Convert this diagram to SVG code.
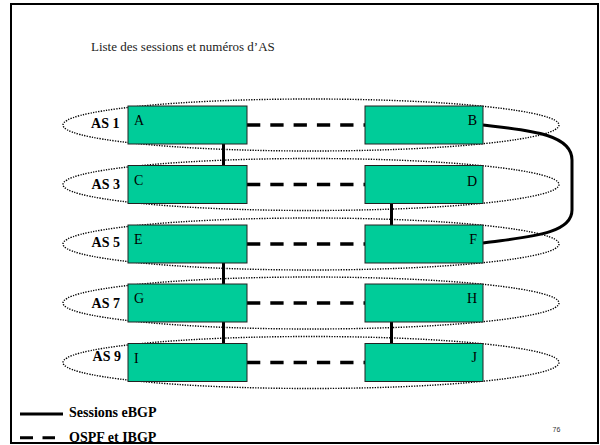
<svg xmlns="http://www.w3.org/2000/svg" width="600" height="445" viewBox="0 0 600 445">
<style>
.as{fill:none;stroke:#000;stroke-width:1.4;stroke-dasharray:1.3 1.3}
.box{fill:#00CC99;stroke:#222;stroke-width:1}
.lbl{font-family:"Liberation Serif","Times New Roman",serif;font-size:14px;fill:#000}
.asl{font-family:"Liberation Serif","Times New Roman",serif;font-size:14px;font-weight:bold;fill:#000;text-anchor:end}
.ebgp{fill:none;stroke:#000;stroke-width:3}
.ibgp{fill:none;stroke:#000;stroke-width:3.4;stroke-dasharray:13.3 10}
.leg{font-family:"Liberation Serif","Times New Roman",serif;font-size:14px;font-weight:bold;fill:#000}
</style>
<rect x="0" y="0" width="600" height="445" fill="#fff"/>
<text x="91" y="51" font-family="Liberation Serif, Times New Roman, serif" font-size="13" fill="#222">Liste des sessions et numéros d’AS</text>

<g id="as1"><ellipse class="as" cx="311" cy="125" rx="248" ry="26"/><text class="asl" x="119.5" y="127.7">AS 1</text></g>
<g id="as3"><ellipse class="as" cx="311" cy="184.5" rx="248" ry="26"/><text class="asl" x="120" y="189">AS 3</text></g>
<g id="as5"><ellipse class="as" cx="311" cy="244" rx="248" ry="26"/><text class="asl" x="120" y="246.5">AS 5</text></g>
<g id="as7"><ellipse class="as" cx="311" cy="303" rx="248" ry="26"/><text class="asl" x="120" y="308">AS 7</text></g>
<g id="as9"><ellipse class="as" cx="311" cy="362.5" rx="248" ry="26"/><text class="asl" x="121" y="360.7">AS 9</text></g>

<g id="connectors">
<line class="ibgp" x1="247" y1="125" x2="365" y2="125"/>
<line class="ibgp" x1="247" y1="184.5" x2="365" y2="184.5"/>
<line class="ibgp" x1="247" y1="244" x2="365" y2="244"/>
<line class="ibgp" x1="247" y1="303" x2="365" y2="303"/>
<line class="ibgp" x1="247" y1="362.5" x2="365" y2="362.5"/>
<line class="ebgp" x1="223.5" y1="144" x2="223.5" y2="165.5"/>
<line class="ebgp" x1="391.5" y1="203.5" x2="391.5" y2="225"/>
<line class="ebgp" x1="223.5" y1="263" x2="223.5" y2="284"/>
<line class="ebgp" x1="223.5" y1="322" x2="223.5" y2="343.5"/>
<line class="ebgp" x1="391.5" y1="322" x2="391.5" y2="343.5"/>
<path class="ebgp" d="M483,125 C525,130 572,133 572,160 L572,210 C572,235 525,237 483,243"/>
</g>

<g id="A"><rect class="box" x="128" y="106" width="119" height="38"/><text class="lbl" x="134" y="125">A</text></g>
<g id="B"><rect class="box" x="365" y="106" width="118" height="38"/><text class="lbl" x="477" y="125" text-anchor="end">B</text></g>
<g id="C"><rect class="box" x="128" y="165.5" width="119" height="38"/><text class="lbl" x="134" y="185">C</text></g>
<g id="D"><rect class="box" x="365" y="165.5" width="118" height="38"/><text class="lbl" x="477" y="185.5" text-anchor="end">D</text></g>
<g id="E"><rect class="box" x="128" y="225" width="119" height="38"/><text class="lbl" x="134" y="244">E</text></g>
<g id="F"><rect class="box" x="365" y="225" width="118" height="38"/><text class="lbl" x="477" y="244.3" text-anchor="end">F</text></g>
<g id="G"><rect class="box" x="128" y="284" width="119" height="38"/><text class="lbl" x="134" y="303.3">G</text></g>
<g id="H"><rect class="box" x="365" y="284" width="118" height="38"/><text class="lbl" x="477" y="303.3" text-anchor="end">H</text></g>
<g id="I"><rect class="box" x="128" y="343.5" width="119" height="38"/><text class="lbl" x="134" y="362.7">I</text></g>
<g id="J"><rect class="box" x="365" y="343.5" width="118" height="38"/><text class="lbl" x="477" y="361.7" text-anchor="end">J</text></g>

<g id="legend">
<line x1="20" y1="414" x2="63" y2="414" stroke="#000" stroke-width="3"/>
<text class="leg" x="69" y="417">Sessions eBGP</text>
<line x1="20" y1="437.7" x2="55" y2="437.7" stroke="#000" stroke-width="3" stroke-dasharray="13 9.5"/>
<text class="leg" x="69" y="442">OSPF et IBGP</text>
</g>
<text x="552.5" y="431.7" font-family="Liberation Sans, Arial, sans-serif" font-size="7" fill="#333">76</text>
<rect x="11" y="4" width="587" height="439" fill="none" stroke="#000" stroke-width="2"/>
</svg>
